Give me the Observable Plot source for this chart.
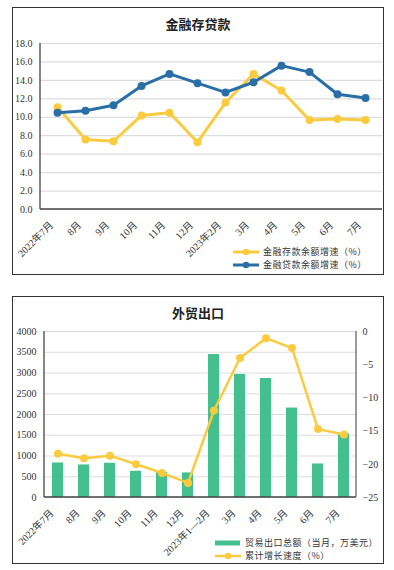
<!DOCTYPE html>
<html><head><meta charset="utf-8">
<script src="https://cdn.jsdelivr.net/npm/d3@7"></script>
<script src="https://cdn.jsdelivr.net/npm/@observablehq/plot@0.6"></script>
<style>
body{margin:0;background:#fff;width:394px;height:570px;position:relative;overflow:hidden;font-family:"Liberation Serif","Noto Sans CJK SC",serif;}
.panel{position:absolute;left:12px;width:372px;height:268px;border:1.2px solid #333;box-sizing:border-box;}
.chart{position:absolute;left:12px;}
.title{position:absolute;left:12px;width:372px;text-align:center;font-size:13px;font-weight:bold;color:#222;font-family:"Noto Sans CJK SC",serif;}
.legend{position:absolute;font-size:9px;color:#333;font-family:"Noto Sans CJK SC",sans-serif;line-height:13px;letter-spacing:0.5px;}
.legend div{display:flex;align-items:center;white-space:nowrap;}
.legend svg{margin-right:4px;}
</style>
</head><body>
<div class="panel" style="top:7px"></div>
<div class="panel" style="top:296px"></div>
<div class="title" style="top:14px">金融存贷款</div>
<div class="title" style="top:303px">外贸出口</div>
<div id="c1" class="chart" style="top:7px"></div>
<div id="c2" class="chart" style="top:296px"></div>
<div class="legend" style="left:233px;top:245px">
  <div><svg width="26" height="8"><line x1="0" x2="26" y1="4" y2="4" stroke="#FBCB3F" stroke-width="3"/><circle cx="13" cy="4" r="3.2" fill="#FBCB3F"/></svg>金融存款余额增速（%）</div>
  <div><svg width="26" height="8"><line x1="0" x2="26" y1="4" y2="4" stroke="#2A6EA6" stroke-width="3"/><circle cx="13" cy="4" r="3.2" fill="#2A6EA6"/></svg>金融贷款余额增速（%）</div>
</div>
<div class="legend" style="left:215px;top:536px">
  <div><svg width="26" height="8"><rect x="0" y="1.5" width="25" height="5" fill="#43BF90"/></svg>贸易出口总额（当月，万美元）</div>
  <div><svg width="26" height="8"><line x1="0" x2="26" y1="4" y2="4" stroke="#FBCB3F" stroke-width="2.5"/><circle cx="13" cy="4" r="3.2" fill="#FBCB3F"/></svg>累计增长速度（%）</div>
</div>
<script>
// ---- data: 金融存贷款 ----
const months1 = ["2022年7月","8月","9月","10月","11月","12月","2023年2月","3月","4月","5月","6月","7月"];
const deposit = [11.1,7.6,7.4,10.2,10.5,7.3,11.6,14.7,12.9,9.7,9.8,9.7];
const loan    = [10.5,10.7,11.3,13.4,14.7,13.7,12.7,13.8,15.6,14.9,12.5,12.1];
const yTicks1 = [0,2,4,6,8,10,12,14,16,18];

// ---- data: 外贸出口 ----
const months2 = ["2022年7月","8月","9月","10月","11月","12月","2023年1—2月","3月","4月","5月","6月","7月"];
const exportsM = [832,784,825,632,600,592,3446,2965,2869,2155,808,1530];
const growth   = [-18.4,-19.1,-18.7,-20.0,-21.3,-22.8,-11.9,-4.0,-1.0,-2.5,-14.7,-15.5];
const yTicksL = [0,500,1000,1500,2000,2500,3000,3500,4000];
const yTicksR = [-25,-20,-15,-10,-5,0];

const YELLOW = "#FBCB3F", BLUE = "#2A6EA6", GREEN = "#43BF90";
const style = {fontFamily:'"Liberation Serif","Noto Sans CJK SC",serif', fontSize:"10px", color:"#333", background:"transparent", overflow:"visible"};

function edge(side, color="#444") {
  return (index, scales, values, dims) => {
    const {width, height, marginLeft, marginRight, marginTop, marginBottom} = dims;
    const l = d3.create("svg:line").attr("stroke", color).attr("stroke-width", 1.3);
    if (side === "left") l.attr("x1", marginLeft).attr("x2", marginLeft).attr("y1", marginTop).attr("y2", height - marginBottom);
    if (side === "right") l.attr("x1", width - marginRight).attr("x2", width - marginRight).attr("y1", marginTop).attr("y2", height - marginBottom);
    if (side === "bottom") l.attr("x1", marginLeft).attr("x2", width - marginRight).attr("y1", height - marginBottom).attr("y2", height - marginBottom);
    return l.node();
  };
}

const rows1 = months1.map((m, i) => ({month: m, deposit: deposit[i], loan: loan[i]}));
const p1 = Plot.plot({
  width: 372, height: 267,
  marginLeft: 28, marginRight: 2, marginTop: 36, marginBottom: 65,
  style,
  x: {type: "point", domain: months1, padding: 0.5, label: null},
  y: {domain: [0, 18], label: null},
  marks: [
    Plot.gridY(yTicks1, {stroke: "#ddd", strokeOpacity: 1, strokeWidth: 1.2}),
    Plot.axisY(yTicks1, {tickSize: 0, tickPadding: 8, tickFormat: d3.format(".1f"), label: null}),
    Plot.axisX({tickRotate: -45, tickSize: 0, tickPadding: 14, dx: -6, label: null}),
    Plot.line(rows1, {x: "month", y: "deposit", stroke: YELLOW, strokeWidth: 3}),
    Plot.dot(rows1, {x: "month", y: "deposit", fill: YELLOW, r: 4}),
    Plot.line(rows1, {x: "month", y: "loan", stroke: BLUE, strokeWidth: 3}),
    Plot.dot(rows1, {x: "month", y: "loan", fill: BLUE, r: 4}),
    edge("left"), edge("bottom")
  ]
});
document.getElementById("c1").append(p1);

// right axis mapping: -25..0 -> 0..4000
const toL = v => (v + 25) * 160;
const rows2 = months2.map((m, i) => ({month: m, exp: exportsM[i], g: growth[i], gl: toL(growth[i])}));
const p2 = Plot.plot({
  width: 372, height: 267,
  marginLeft: 32, marginRight: 28, marginTop: 35, marginBottom: 66,
  style,
  x: {type: "band", domain: months2, paddingInner: 0.59, paddingOuter: 0.295, label: null},
  y: {domain: [0, 4000], label: null},
  marks: [
    Plot.gridY(yTicksL, {stroke: "#ddd", strokeOpacity: 1, strokeWidth: 1.2}),
    Plot.axisY(yTicksL, {tickSize: 0, tickPadding: 8, tickFormat: d3.format("d"), label: null}),
    Plot.axisY(yTicksR.map(toL), {anchor: "right", tickSize: 0, tickPadding: 6, label: null, tickFormat: d => d3.format("d")(d / 160 - 25).replace("-", "−")}),
    Plot.axisX({tickRotate: -45, tickSize: 0, tickPadding: 14, dx: -6, label: null}),
    Plot.barY(rows2, {x: "month", y: "exp", fill: GREEN}),
    Plot.line(rows2, {x: "month", y: "gl", stroke: YELLOW, strokeWidth: 2.5}),
    Plot.dot(rows2, {x: "month", y: "gl", fill: YELLOW, r: 4}),
    edge("left"), edge("bottom"), edge("right", "#666")
  ]
});
document.getElementById("c2").append(p2);
</script>
</body></html>
